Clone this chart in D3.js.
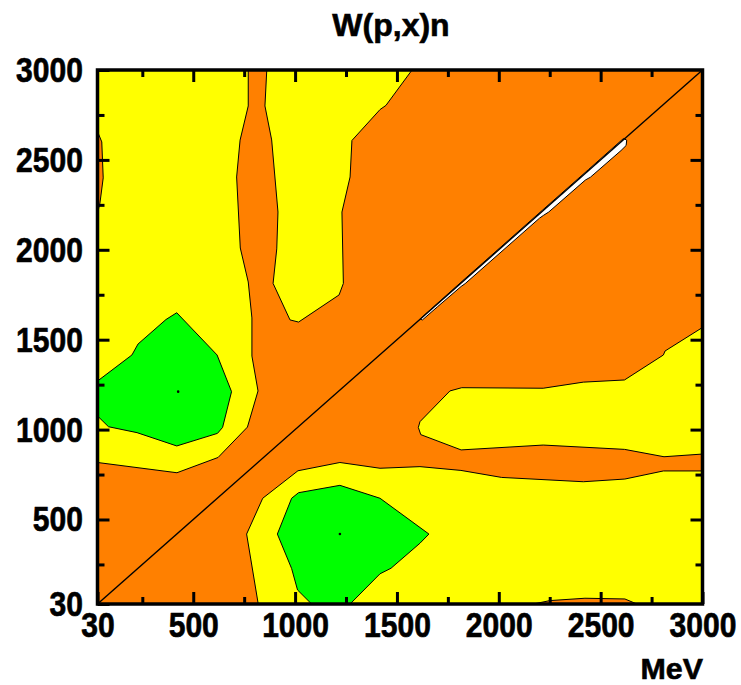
<!DOCTYPE html>
<html>
<head>
<meta charset="utf-8">
<script src="https://cdn.jsdelivr.net/npm/d3@7"></script>
<style>
  body { margin: 0; background: #fff; }
  svg { display: block; }
  text { font-family: "Liberation Sans", Arial, Helvetica, sans-serif; font-weight: bold; fill: #000; stroke: #000; stroke-width: 0.6px; }
</style>
</head>
<body>
<svg id="chart" width="741" height="685"></svg>
<script>
// Axis ticks (MeV on both axes)
const majorTicks = [30, 500, 1000, 1500, 2000, 2500, 3000];
const minorTicks = [250, 750, 1250, 1750, 2250, 2750];

// Contour bands of W(p,x)n, as [x, y] vertices in MeV.
// The base level fills the whole square; the others are laid on top of it.
const yellowUpperLeft = [[30,3000],[770,3000],[770,2800],[730,2610],[713,2405],[731,2010],[770,1821],[788,1621],[788,1409],[818,1215],[766,1014],[622,845],[420,760],[30,817]];
const yellowUpperMiddle = [[861,3000],[852,2800],[885,2611],[916,2210],[910,2005],[892,1813],[975,1610],[1017,1598],[1216,1749],[1237,1813],[1230,2210],[1270,2405],[1279,2608],[1417,2780],[1446,2803],[1574,3000]];
const yellowRightBand = [[3000,1568],[2816,1437],[2808,1415],[2617,1276],[2415,1264],[2218,1230],[1818,1233],[1760,1215],[1613,1044],[1605,1012],[1617,972],[1815,887],[2218,914],[2617,890],[2811,849],[3000,864]];
const yellowLowerRight = [[819,30],[762,419],[841,618],[1014,771],[1220,817],[1417,785],[1613,794],[1814,773],[2014,734],[2415,710],[2619,725],[2808,770],[3000,770],[3000,30]];
const orangeLeftEdge = [[30,2658],[51,2600],[58,2400],[42,2260],[30,2203]];
const orangeBottomEdge = [[2170,30],[2251,49],[2423,62],[2619,58],[2678,30]];
const greenLeft = [[419,1650],[366,1612],[229,1476],[199,1415],[30,1270],[30,1076],[84,1016],[224,983],[419,909],[619,979],[644,1012],[688,1211],[617,1415]];
const greenLower = [[1220,690],[1017,649],[983,618],[913,419],[983,227],[1012,108],[1081,30],[1270,30],[1417,198],[1471,229],[1613,368],[1657,419],[1417,618]];
const whiteRidge = [[1613,1615],[1820,1825],[2215,2221],[2440,2446],[2612,2619],[2628,2610],[2625,2580],[2600,2552],[2450,2404],[2425,2388],[2245,2210],[2220,2192],[2200,2176],[1835,1812],[1815,1796],[1700,1684],[1625,1610]];
// Grid points at the centre of each closed green band
const centres = [[426,1211],[1220,419]];
// p = x line
const diagonal = [[30,30],[3000,3000]];

const colours = { base: "#ff8000", yellow: "#ffff00", green: "#00ff00", white: "#ffffff" };

const layers = [
  { pts: yellowUpperLeft,   fill: colours.yellow },
  { pts: yellowUpperMiddle, fill: colours.yellow },
  { pts: yellowRightBand,   fill: colours.yellow },
  { pts: yellowLowerRight,  fill: colours.yellow },
  { pts: orangeLeftEdge,    fill: colours.base },
  { pts: orangeBottomEdge,  fill: colours.base },
  { pts: greenLeft,         fill: colours.green },
  { pts: greenLower,        fill: colours.green },
  { pts: whiteRidge,        fill: colours.white }
];

const svg = d3.select("#chart");
const x = d3.scaleLinear().domain([30, 3000]).range([97.5, 702.5]);
const y = d3.scaleLinear().domain([30, 3000]).range([604, 70]);
const [x0, x1] = x.range();
const [y0, y1] = [y(3000), y(30)];

svg.append("defs").append("clipPath").attr("id", "plotClip")
  .append("rect").attr("x", x0).attr("y", y0).attr("width", x1 - x0).attr("height", y1 - y0);

const plot = svg.append("g").attr("clip-path", "url(#plotClip)");

plot.append("rect")
  .attr("x", x0).attr("y", y0).attr("width", x1 - x0).attr("height", y1 - y0)
  .attr("fill", colours.base);

const area = d3.line().x(d => x(d[0])).y(d => y(d[1])).curve(d3.curveLinearClosed);

plot.selectAll("path.band").data(layers).join("path")
  .attr("class", "band")
  .attr("d", d => area(d.pts))
  .attr("fill", d => d.fill)
  .attr("stroke", "#000")
  .attr("stroke-width", 1)
  .attr("stroke-linejoin", "round");

plot.append("path")
  .attr("d", d3.line().x(d => x(d[0])).y(d => y(d[1]))(diagonal))
  .attr("fill", "none").attr("stroke", "#000").attr("stroke-width", 1.4);

plot.selectAll("circle.centre").data(centres).join("circle")
  .attr("class", "centre")
  .attr("cx", d => x(d[0])).attr("cy", d => y(d[1])).attr("r", 1.3).attr("fill", "#000");

// Frame
svg.append("rect")
  .attr("x", x0).attr("y", y0).attr("width", x1 - x0).attr("height", y1 - y0)
  .attr("fill", "none").attr("stroke", "#000").attr("stroke-width", 3.5);

// Inward ticks on all four sides; labels in a tall, tight bold face
const labelScale = "scale(0.94,1.12)";
function styleAxis(g) {
  g.select(".domain").remove();
  g.selectAll(".tick line").attr("stroke", "#000").attr("stroke-width", 3);
  g.selectAll(".tick text")
    .attr("font-size", 32)
    .attr("font-weight", "bold")
    .attr("font-family", "'Liberation Sans', Arial, sans-serif")
    .attr("fill", "#000")
    .attr("transform", labelScale);
}
const fmt = d3.format("d");

svg.append("g").attr("transform", `translate(0,${y1})`)
  .call(d3.axisBottom(x).tickValues(majorTicks).tickSize(-12).tickPadding(7).tickFormat(fmt))
  .call(styleAxis);
svg.append("g").attr("transform", `translate(0,${y1})`)
  .call(d3.axisBottom(x).tickValues(minorTicks).tickSize(-7).tickFormat(""))
  .call(styleAxis);
svg.append("g").attr("transform", `translate(0,${y0})`)
  .call(d3.axisTop(x).tickValues(majorTicks.slice(1, -1)).tickSize(-12).tickFormat(""))
  .call(styleAxis);
svg.append("g").attr("transform", `translate(0,${y0})`)
  .call(d3.axisTop(x).tickValues(minorTicks).tickSize(-7).tickFormat(""))
  .call(styleAxis);

svg.append("g").attr("transform", `translate(${x0},0)`)
  .call(d3.axisLeft(y).tickValues(majorTicks).tickSize(-12).tickPadding(15.5).tickFormat(fmt))
  .call(styleAxis);
svg.append("g").attr("transform", `translate(${x0},0)`)
  .call(d3.axisLeft(y).tickValues(minorTicks).tickSize(-7).tickFormat(""))
  .call(styleAxis);
svg.append("g").attr("transform", `translate(${x1},0)`)
  .call(d3.axisRight(y).tickValues(majorTicks.slice(1, -1)).tickSize(-12).tickFormat(""))
  .call(styleAxis);
svg.append("g").attr("transform", `translate(${x1},0)`)
  .call(d3.axisRight(y).tickValues(minorTicks).tickSize(-7).tickFormat(""))
  .call(styleAxis);

// Title and unit
svg.append("text").attr("x", 391).attr("y", 36).attr("text-anchor", "middle")
  .attr("font-size", 32).text("W(p,x)n");
svg.append("text").attr("text-anchor", "end")
  .attr("transform", "translate(703,678.5) scale(1.03,1)")
  .attr("font-size", 29.5).text("MeV");
</script>
</body>
</html>
